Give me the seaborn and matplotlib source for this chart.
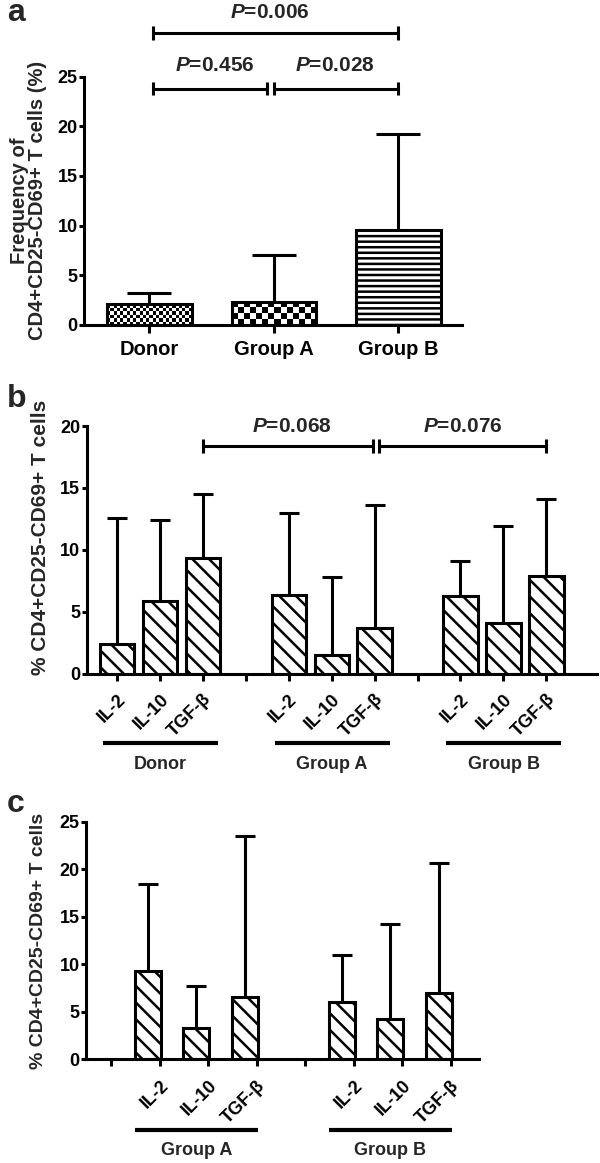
import numpy as np
import matplotlib
matplotlib.use('Agg')
import matplotlib.pyplot as plt
import seaborn as sns

sns.set_style('ticks')
plt.rcParams['font.family'] = ['Liberation Sans', 'DejaVu Sans']
plt.rcParams['font.weight'] = 'bold'
plt.rcParams['axes.labelweight'] = 'bold'
plt.rcParams['mathtext.fontset'] = 'custom'
plt.rcParams['mathtext.it'] = 'Liberation Sans:italic:bold'
plt.rcParams['mathtext.rm'] = 'Liberation Sans:bold'
plt.rcParams['hatch.linewidth'] = 1.8
plt.rcParams['axes.linewidth'] = 2.2
plt.rcParams['axes.edgecolor'] = 'black'
plt.rcParams['xtick.color'] = 'black'
plt.rcParams['ytick.color'] = 'black'

# ---- data (a): frequency per group, mean and SD ----
groups_a = ['Donor', 'Group A', 'Group B']
mean_a = [2.1, 2.35, 9.6]
sd_a = [1.15, 4.7, 9.65]

# ---- data (b): cytokine stimulation, Donor / Group A / Group B ----
cytokines = ['IL-2', 'IL-10', 'TGF-β']
groups_b = ['Donor', 'Group A', 'Group B']
mean_b = [2.4, 5.9, 9.35, 6.4, 1.5, 3.7, 6.3, 4.1, 7.9]
sd_b = [10.2, 6.55, 5.2, 6.6, 6.3, 9.9, 2.85, 7.85, 6.25]

# ---- data (c): Group A / Group B ----
groups_c = ['Group A', 'Group B']
mean_c = [9.3, 3.25, 6.55, 6.05, 4.2, 6.95]
sd_c = [9.1, 4.5, 16.95, 4.9, 10.0, 13.75]

# slot positions, with an empty slot between groups
pos_b = [g * 4 + i for g in range(len(groups_b)) for i in range(3)]
pos_c = [1 + g * 4 + i for g in range(len(groups_c)) for i in range(3)]

fig = plt.figure(figsize=(6, 11.63), dpi=100)
ax_a = fig.add_axes([0.14, 0.7206, 0.6295, 0.2135])
ax_b = fig.add_axes([0.1445, 0.4205, 0.8505, 0.2132])
ax_c = fig.add_axes([0.1433, 0.0892, 0.655, 0.2043])

LW = 2.2


def style_axis(ax, ylim, yticks):
    sns.despine(ax=ax)
    ax.set_ylim(*ylim)
    ax.set_yticks(yticks)
    ax.tick_params(axis='y', length=3.6, width=LW, pad=1, labelsize=13)
    ax.tick_params(axis='x', length=5, width=LW)
    for lab in ax.get_yticklabels():
        lab.set_fontweight('bold')


def upper_errorbars(ax, x, mean, sd, cap_pt):
    # SD shown upward only, cap only at the top
    _, caps, _ = ax.errorbar(x, mean, yerr=[np.zeros(len(sd)), sd], fmt='none',
                             ecolor='black', elinewidth=LW, capsize=cap_pt / 2,
                             capthick=LW, zorder=0.5)
    for c in caps:
        if np.allclose(c.get_ydata(), mean):
            c.set_visible(False)


def checker_fill(ax, bar, cell_px):
    x0, y0 = bar.get_x(), bar.get_y()
    w, h = bar.get_width(), bar.get_height()
    bb = bar.get_window_extent()
    nx = max(1, int(round(bb.width / cell_px)))
    ny = max(1, int(round(bb.height / cell_px)))
    cells = np.indices((ny, nx)).sum(axis=0) % 2
    im = ax.imshow(cells, cmap='gray_r', extent=(x0, x0 + w, y0, y0 + h),
                   origin='lower', interpolation='nearest', aspect='auto',
                   zorder=bar.get_zorder() - 0.1)
    im.set_clip_path(bar)
    bar.set_facecolor('none')


def sig_bar(ax, x1, x2, y, cap):
    kw = dict(color='black', lw=LW, clip_on=False, solid_capstyle='butt')
    ax.plot([x1, x2], [y, y], **kw)
    ax.plot([x1, x1], [y - cap, y + cap], **kw)
    ax.plot([x2, x2], [y - cap, y + cap], **kw)


def p_text(ax, x, y, txt):
    ax.text(x, y, r'$P$' + txt, ha='center', va='center', fontsize=15,
            fontweight='bold', clip_on=False)


def group_lines(ax, pos, names, y_line, y_text, pad_l, pad_r, fs):
    tr = ax.get_xaxis_transform()
    for g, name in enumerate(names):
        x1 = pos[g * 3] - pad_l
        x2 = pos[g * 3 + 2] + pad_r
        ax.plot([x1, x2], [y_line, y_line], color='black', lw=3, transform=tr,
                clip_on=False, solid_capstyle='butt')
        ax.text((x1 + x2) / 2, y_text, name, transform=tr, ha='center',
                va='center', fontsize=fs, fontweight='bold')


# ================= panel a =================
sns.barplot(x=groups_a, y=mean_a, width=0.68, color='white', saturation=1,
            edgecolor='black', linewidth=LW, ax=ax_a)
upper_errorbars(ax_a, range(len(groups_a)), mean_a, sd_a, 31)
ax_a.set_xlim(-0.526, 2.508)
style_axis(ax_a, (0, 25), range(0, 26, 5))
ax_a.tick_params(axis='x', length=6, pad=5, labelsize=14.5)
for lab in ax_a.get_xticklabels():
    lab.set_fontweight('bold')
ax_a.set_xlabel('')
ax_a.set_ylabel('Frequency of\nCD4+CD25-CD69+ T cells (%)', fontsize=14.5,
                fontweight='bold', va='center', linespacing=0.9)
ax_a.yaxis.set_label_coords(-0.147, 0.5)

bars_a = list(ax_a.patches)
checker_fill(ax_a, bars_a[0], 3.3)
checker_fill(ax_a, bars_a[1], 6.0)
bars_a[2].set_hatch('---')
ax_a.set_xlim(-0.526, 2.508)
ax_a.set_ylim(0, 25)

sig_bar(ax_a, 0.026, 0.94, 23.8, 0.67)
sig_bar(ax_a, 1.0, 2.0, 23.8, 0.67)
sig_bar(ax_a, 0.026, 2.0, 29.4, 0.67)
p_text(ax_a, 0.525, 26.1, '=0.456')
p_text(ax_a, 1.49, 26.1, '=0.028')
p_text(ax_a, 0.97, 31.5, '=0.006')

# ================= panel b =================
sns.barplot(x=pos_b, y=mean_b, native_scale=True, width=0.8, color='white',
            saturation=1, edgecolor='black', linewidth=LW, hatch='\\\\', ax=ax_b)
upper_errorbars(ax_b, pos_b, mean_b, sd_b, 13.7)
ax_b.set_xlim(-0.706, 11.18)
style_axis(ax_b, (0, 20), range(0, 21, 5))
ticks_b = list(range(11))
labels_b = [''] * 11
for p, lab in zip(pos_b, cytokines * 3):
    labels_b[p] = lab
ax_b.set_xticks(ticks_b)
ax_b.set_xticklabels(labels_b, rotation=45, ha='right', rotation_mode='anchor',
                     fontsize=13, fontweight='bold')
ax_b.tick_params(axis='x', pad=7)
ax_b.set_xlabel('')
ax_b.set_ylabel('% CD4+CD25-CD69+ T cells', fontsize=15, fontweight='bold',
                va='center')
ax_b.yaxis.set_label_coords(-0.091, 0.55)
group_lines(ax_b, pos_b, groups_b, -0.278, -0.367, 0.33, 0.35, 13)

sig_bar(ax_b, 2.0, 5.97, 18.39, 0.6)
sig_bar(ax_b, 6.1, 10.0, 18.39, 0.6)
p_text(ax_b, 4.08, 20.0, '=0.068')
p_text(ax_b, 8.06, 20.0, '=0.076')

# ================= panel c =================
sns.barplot(x=pos_c, y=mean_c, native_scale=True, width=0.53, color='white',
            saturation=1, edgecolor='black', linewidth=LW, hatch='\\\\', ax=ax_c)
upper_errorbars(ax_c, pos_c, mean_c, sd_c, 15)
ax_c.set_xlim(-0.274, 7.83)
style_axis(ax_c, (0, 25), range(0, 26, 5))
ticks_c = [k + 0.25 for k in range(8)]
labels_c = [''] * 8
for p, lab in zip(pos_c, cytokines * 2):
    labels_c[p] = lab
ax_c.set_xticks(ticks_c)
ax_c.set_xticklabels(labels_c, rotation=45, ha='right', rotation_mode='anchor',
                     fontsize=13, fontweight='bold')
ax_c.tick_params(axis='x', pad=8)
ax_c.set_xlabel('')
ax_c.set_ylabel('% CD4+CD25-CD69+ T cells', fontsize=14, fontweight='bold',
                va='center')
ax_c.yaxis.set_label_coords(-0.121, 0.5)
group_lines(ax_c, pos_c, groups_c, -0.2976, -0.382, 0.265, 0.265, 13)

# panel letters
for letter, y_px in [('a', 21), ('b', 407), ('c', 812)]:
    fig.text(7 / 600, 1 - y_px / 1163, letter, fontsize=23, fontweight='bold',
             va='baseline', ha='left')

fig.savefig('out.png', dpi=100)
